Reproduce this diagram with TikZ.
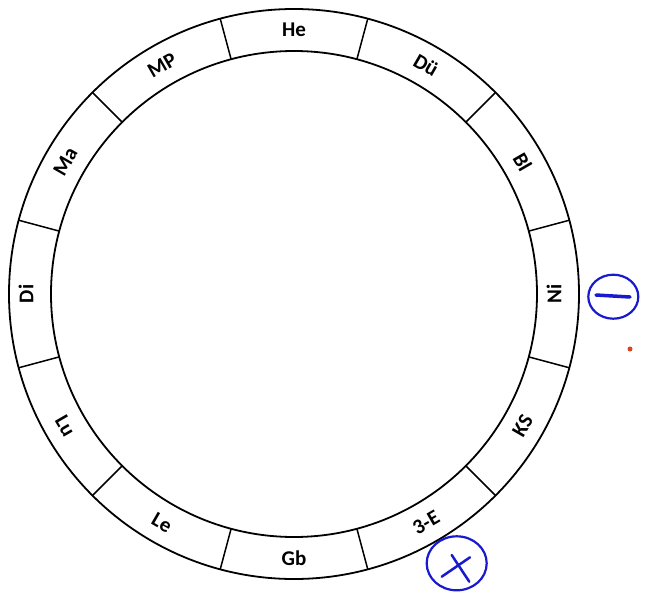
\documentclass[tikz,border=0pt]{standalone}
\usepackage{fontspec}
\setmainfont{Carlito}
\definecolor{azulTinta}{RGB}{25,25,205}
\definecolor{rojoPunto}{RGB}{215,70,30}
\usetikzlibrary{calc}

\begin{document}
\begin{tikzpicture}[x=1pt,y=1pt]
  \useasboundingbox (-294,-298) rectangle (353,294);
  % Anillo
  \draw[line width=1.8pt] (0,0) circle (285);
  \draw[line width=1.8pt] (0,0) circle (243);
  % Divisiones
  \draw[line width=1.5pt] (15:243) -- (15:285);
  \draw[line width=1.5pt] (45:243) -- (45:285);
  \draw[line width=1.5pt] (75:243) -- (75:285);
  \draw[line width=1.5pt] (105:243) -- (105:285);
  \draw[line width=1.5pt] (135:243) -- (135:285);
  \draw[line width=1.5pt] (165:243) -- (165:285);
  \draw[line width=1.5pt] (195:243) -- (195:285);
  \draw[line width=1.5pt] (225:243) -- (225:285);
  \draw[line width=1.5pt] (255:243) -- (255:285);
  \draw[line width=1.5pt] (285:243) -- (285:285);
  \draw[line width=1.5pt] (315:243) -- (315:285);
  \draw[line width=1.5pt] (345:243) -- (345:285);
  % Etiquetas
  \node[font=\bfseries\fontsize{21}{24}\selectfont, rotate=0] (he) at (90:264) {He};
  \node[font=\bfseries\fontsize{21}{24}\selectfont, rotate=-30] (du) at (60:264) {Dü};
  \node[font=\bfseries\fontsize{21}{24}\selectfont, rotate=-60] (bl) at (30:264) {Bl};
  \node[font=\bfseries\fontsize{21}{24}\selectfont, rotate=90] (ni) at (0:260) {Ni};
  \node[font=\bfseries\fontsize{21}{24}\selectfont, rotate=60] (ks) at (-30:264) {KS};
  \node[font=\bfseries\fontsize{21}{24}\selectfont, rotate=30] (tre) at (-60:264) {3-E};
  \node[font=\bfseries\fontsize{21}{24}\selectfont, rotate=0] (gb) at (-90:264) {Gb};
  \node[font=\bfseries\fontsize{21}{24}\selectfont, rotate=-30] (le) at (-120:264) {Le};
  \node[font=\bfseries\fontsize{21}{24}\selectfont, rotate=-60] (lu) at (-150:264) {Lu};
  \node[font=\bfseries\fontsize{21}{24}\selectfont, rotate=90] (di) at (180:268) {Di};
  \node[font=\bfseries\fontsize{21}{24}\selectfont, rotate=60] (ma) at (150:264) {Ma};
  \node[font=\bfseries\fontsize{21}{24}\selectfont, rotate=30] (mp) at (120:264) {MP};
  % Anotaciones a mano
  \draw[azulTinta, line width=2.2pt] (319.3,-2.7) ellipse [x radius=25, y radius=22];
  \draw[azulTinta, line width=3.5pt, line cap=round] (302,-1) -- (336,-3);
  \draw[azulTinta, line width=2.2pt] (162.7,-269.3) ellipse [x radius=30, y radius=27];
  \draw[azulTinta, line width=2.5pt, line cap=round] (147.7,-282.7) -- (176,-263.3);
  \draw[azulTinta, line width=2.5pt, line cap=round] (157.7,-261) -- (175.3,-287.7);
  \fill[rojoPunto] (336,-55) circle (2.5);
\end{tikzpicture}
\end{document}
